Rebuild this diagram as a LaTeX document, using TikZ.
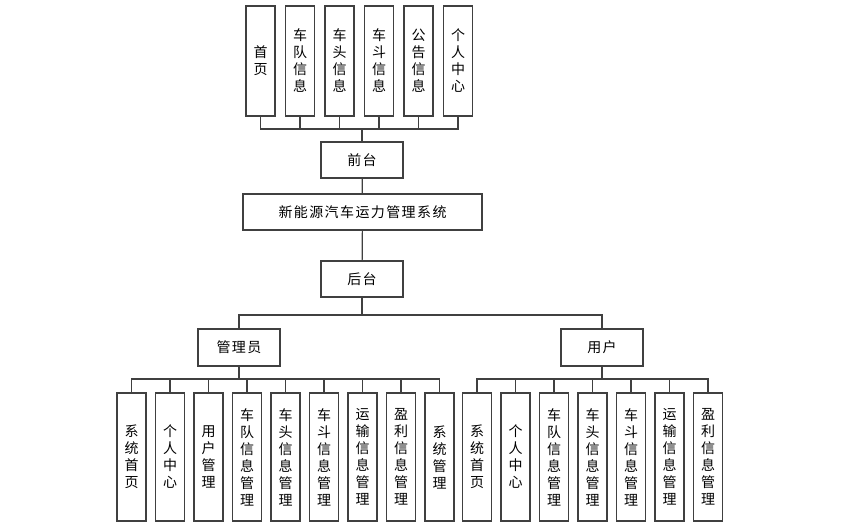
\documentclass[tikz,border=0pt]{standalone}
\usepackage{fontspec}
\newfontfamily\cnfont{Noto Sans CJK SC}
\newfontfamily\cnwide{Noto Sans CJK SC}[LetterSpace=10]
\usepackage{xcolor}
\definecolor{clLine}{HTML}{404040}
\usepackage{tikz}
\usetikzlibrary{positioning}
\tikzset{
  box/.style={rectangle, draw=clLine, line width=1.2pt, inner sep=0pt, outer sep=0pt,
              align=center, text=black, font=\cnwide\fontsize{14}{17}\selectfont},
  hub/.style={box, minimum width=82pt, minimum height=36pt},
  leaf/.style={box, minimum width=29pt, font=\cnfont\fontsize{14}{17}\selectfont},
  topleaf/.style={leaf, minimum height=110pt},
  subleaf/.style={leaf, minimum height=128pt},
  link/.style={draw=clLine, line width=1.2pt},
}

\begin{document}
\begin{tikzpicture}[x=1pt, y=-1pt, node distance=10.5pt]
  \useasboundingbox (0,0) rectangle (845,530);
  % front end pages
  \node[topleaf] at (260.5,61) (home) {首\\页};
  \node[topleaf, right=of home] (fleet) {车\\队\\信\\息};
  \node[topleaf, right=of fleet] (head) {车\\头\\信\\息};
  \node[topleaf, right=of head] (bucket) {车\\斗\\信\\息};
  \node[topleaf, right=of bucket] (notice) {公\\告\\信\\息};
  \node[topleaf, right=of notice] (mine) {个\\人\\中\\心};
  % trunk
  \node[hub] at (362,160) (front) {前台};
  \node[hub, minimum width=239pt] at (362.5,212) (sys) {新能源汽车运力管理系统};
  \node[hub] at (362,279) (back) {后台};
  \node[hub, minimum height=37pt] at (239,347.5) (admin) {管理员};
  \node[hub, minimum height=37pt] at (602,347.5) (user) {用户};
  \coordinate (busT) at (362,129);
  \coordinate (busH) at (362,315);
  \coordinate (busA) at (239,379);
  \coordinate (busU) at (602,379);
  % admin modules
  \node[subleaf] at (131.5,457) (aHome) {系\\统\\首\\页};
  \node[subleaf, right=9.5pt of aHome] (aMine) {个\\人\\中\\心};
  \node[subleaf, right=9.5pt of aMine] (aUser) {用\\户\\管\\理};
  \node[subleaf, right=9.5pt of aUser] (aFleet) {车\\队\\信\\息\\管\\理};
  \node[subleaf, right=9.5pt of aFleet] (aHead) {车\\头\\信\\息\\管\\理};
  \node[subleaf, right=9.5pt of aHead] (aBucket) {车\\斗\\信\\息\\管\\理};
  \node[subleaf, right=9.5pt of aBucket] (aTrans) {运\\输\\信\\息\\管\\理};
  \node[subleaf, right=9.5pt of aTrans] (aProfit) {盈\\利\\信\\息\\管\\理};
  \node[subleaf, right=9.5pt of aProfit] (aSys) {系\\统\\管\\理};
  % user modules
  \node[subleaf] at (477,457) (uHome) {系\\统\\首\\页};
  \node[subleaf, right=9.5pt of uHome] (uMine) {个\\人\\中\\心};
  \node[subleaf, right=9.5pt of uMine] (uFleet) {车\\队\\信\\息\\管\\理};
  \node[subleaf, right=9.5pt of uFleet] (uHead) {车\\头\\信\\息\\管\\理};
  \node[subleaf, right=9.5pt of uHead] (uBucket) {车\\斗\\信\\息\\管\\理};
  \node[subleaf, right=9.5pt of uBucket] (uTrans) {运\\输\\信\\息\\管\\理};
  \node[subleaf, right=9.5pt of uTrans] (uProfit) {盈\\利\\信\\息\\管\\理};
  % connectors
  \draw[link] (home.south) |- (busT) (fleet.south) |- (busT) (head.south) |- (busT);
  \draw[link] (mine.south) |- (busT) (notice.south) |- (busT) (bucket.south) |- (busT);
  \draw[link] (front.north) -- (busT);
  \draw[link] (front) -- (sys);
  \draw[link] (sys) -- (back);
  \draw[link] (back.south) -- (busH);
  \draw[link] (admin.north) |- (busH) (user.north) |- (busH);
  \draw[link] (admin.south) -- (busA);
  \draw[link] (aHome.north) |- (busA) (aMine.north) |- (busA) (aUser.north) |- (busA);
  \draw[link] (aFleet.north) |- (busA) (aHead.north) |- (busA) (aBucket.north) |- (busA);
  \draw[link] (aTrans.north) |- (busA) (aProfit.north) |- (busA) (aSys.north) |- (busA);
  \draw[link] (user.south) -- (busU);
  \draw[link] (uHome.north) |- (busU) (uMine.north) |- (busU) (uFleet.north) |- (busU);
  \draw[link] (uHead.north) |- (busU) (uBucket.north) |- (busU) (uTrans.north) |- (busU);
  \draw[link] (uProfit.north) |- (busU);
\end{tikzpicture}
\end{document}
